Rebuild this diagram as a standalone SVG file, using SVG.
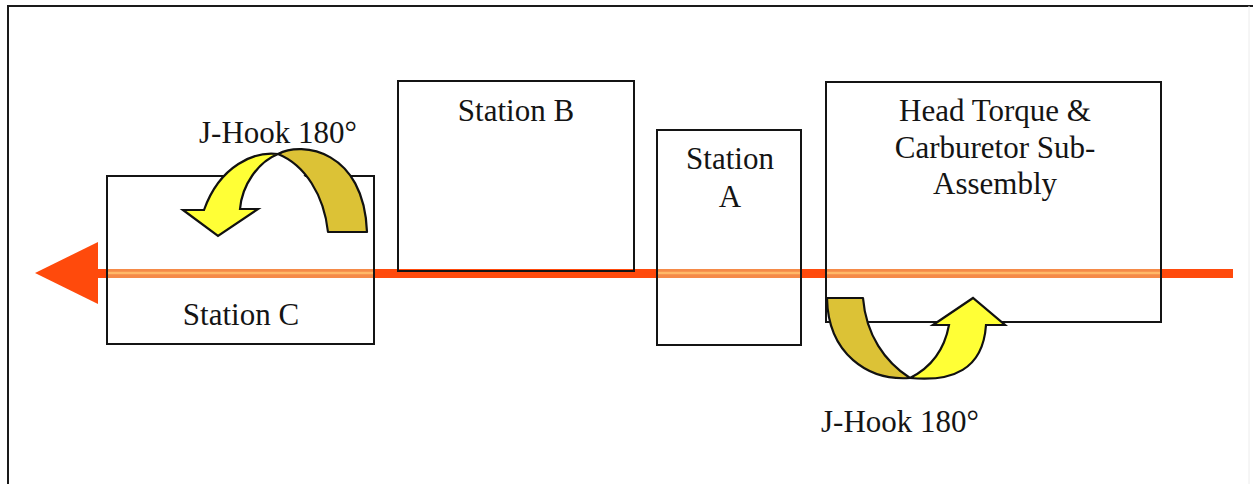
<svg xmlns="http://www.w3.org/2000/svg" width="1253" height="484" viewBox="0 0 1253 484">
  <style>
    .box { fill: none; stroke: #141414; stroke-width: 2; }
    .lbl { font-family: "Liberation Serif", "Times New Roman", serif; font-size: 31px; fill: #141414; }
    .mid { text-anchor: middle; }
    .hook-back { fill: #DCC236; stroke: #111; stroke-width: 2.2; stroke-linejoin: round; }
    .hook-front { fill: #FFFF36; stroke: #111; stroke-width: 2.2; stroke-linejoin: miter; }
    .flow { stroke: #FF4A0C; stroke-width: 9; fill: none; }
    .flow-in { stroke: #F58A48; stroke-width: 9; fill: none; }
    .flow-core { stroke: #FFB868; stroke-width: 2.5; fill: none; }
  </style>

  <rect width="1253" height="484" fill="#ffffff"/>

  <!-- outer frame -->
  <path d="M8,484 V6 H1253" fill="none" stroke="#1a1a1a" stroke-width="2"/>
  <path d="M1249,6 V484" fill="none" stroke="#ececec" stroke-width="1"/>

  <!-- production flow line -->
  <g id="connectors">
    <line class="flow" x1="96" y1="273.5" x2="1233" y2="273.5"/>
    <line class="flow-in" x1="108" y1="273.5" x2="373" y2="273.5"/>
    <line class="flow-core" x1="108" y1="273" x2="373" y2="273"/>
    <line class="flow-in" x1="658" y1="273.5" x2="800" y2="273.5"/>
    <line class="flow-core" x1="658" y1="273" x2="800" y2="273"/>
    <line class="flow-in" x1="826" y1="273.5" x2="1160" y2="273.5"/>
    <line class="flow-core" x1="826" y1="273" x2="1160" y2="273"/>
    <polygon points="35,273 98,242 98,304" fill="#FF4A0C"/>
  </g>

  <g id="station-c">
    <rect class="box" x="107" y="176" width="267" height="168"/>
    <text class="lbl mid" x="241" y="325">Station C</text>
  </g>

  <g id="station-b">
    <rect class="box" x="398" y="81" width="236" height="190"/>
    <text class="lbl mid" x="516" y="121">Station B</text>
  </g>

  <g id="station-a">
    <rect class="box" x="657" y="130" width="144" height="215"/>
    <text class="lbl mid" x="730" y="169">Station</text>
    <text class="lbl mid" x="730" y="207">A</text>
  </g>

  <g id="head-torque">
    <rect class="box" x="826" y="82" width="335" height="240"/>
    <text class="lbl mid" x="995" y="121">Head Torque &amp;</text>
    <text class="lbl mid" x="995" y="158">Carburetor Sub-</text>
    <text class="lbl mid" x="995" y="194">Assembly</text>
  </g>

  <!-- upper J-hook turn -->
  <g id="jhook-upper">
    <path d="M248,175 C258,160 270,154 278,154 C300,165 320,190 328,232 L250,232 Z" fill="#ffffff"/>
    <path class="hook-back" d="M278,154 C302,141 364,150 367,232 L328,232 C324,195 305,165 278,154 Z"/>
    <path class="hook-front" d="M278,154 C255,151 220,165 204,210 L183,210 L218,236 L258,209 L240,209 C242,185 258,162 278,154 Z"/>
    <text class="lbl" x="199" y="143">J-Hook 180°</text>
  </g>

  <!-- lower J-hook turn -->
  <g id="jhook-lower">
    <path class="hook-back" d="M827,298 L863,298 C866,335 885,362 910,378 C868,381 828,354 827,298 Z"/>
    <path class="hook-front" d="M910,378 C952,382 983,370 986,325 L1005,325 L973,298 L933,325 L949,325 C944,352 930,368 910,378 Z"/>
    <text class="lbl" x="821" y="432">J-Hook 180°</text>
  </g>
</svg>
